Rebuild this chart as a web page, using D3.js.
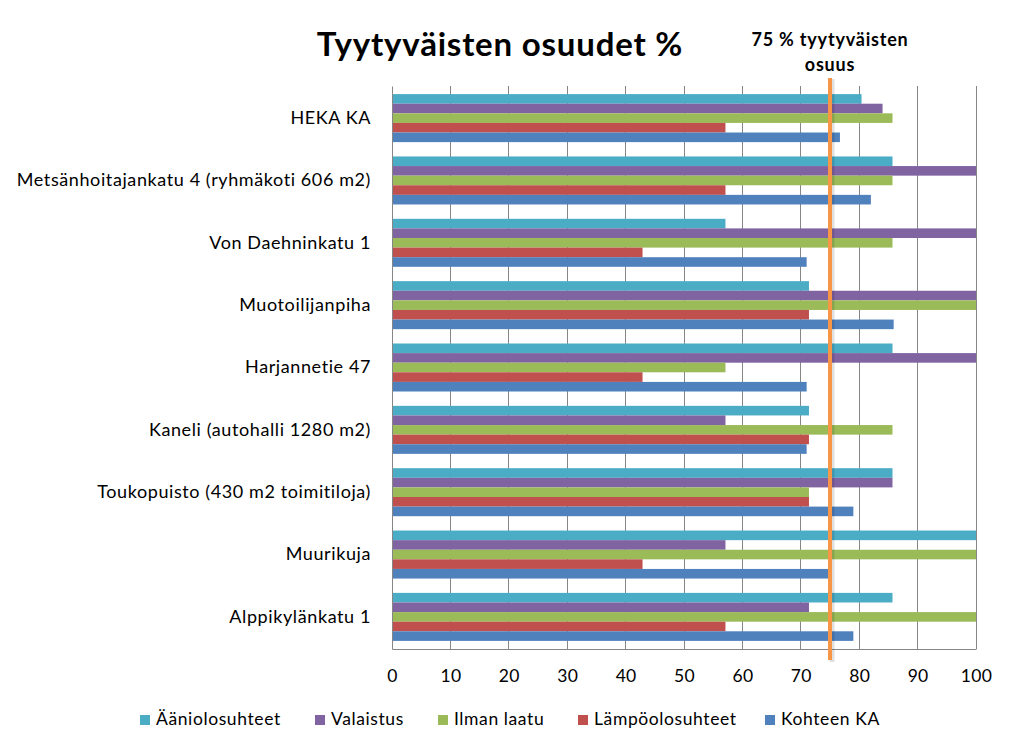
<!DOCTYPE html>
<html><head><meta charset="utf-8">
<script src="https://cdn.jsdelivr.net/npm/d3@7"></script>
<style>
body{margin:0;background:#fff;}
svg{display:block;font-family:Lato,"Open Sans",sans-serif;}
</style></head>
<body><svg id="c" width="1015" height="751"></svg>
<script>
const categories = ["HEKA KA","Metsänhoitajankatu 4 (ryhmäkoti 606 m2)","Von Daehninkatu 1","Muotoilijanpiha","Harjannetie 47","Kaneli (autohalli 1280 m2)","Toukopuisto (430 m2 toimitiloja)","Muurikuja","Alppikylänkatu 1"];
const seriesNames = ["Ääniolosuhteet","Valaistus","Ilman laatu","Lämpöolosuhteet","Kohteen KA"];
const seriesColors = ["#4BACC6","#8064A2","#9BBB59","#C0504D","#4F81BD"];
const aaniolosuhteet  = [80.4, 85.7, 57.1, 71.4, 85.7, 71.4, 85.7, 100, 85.7];
const valaistus       = [84.0, 100, 100, 100, 100, 57.1, 85.7, 57.1, 71.4];
const ilmanLaatu      = [85.7, 85.7, 85.7, 100, 57.1, 85.7, 71.4, 100, 100];
const lampoolosuhteet = [57.1, 57.1, 42.9, 71.4, 42.9, 71.4, 71.4, 42.9, 57.1];
const kohteenKA       = [76.7, 82.0, 71.0, 85.9, 71.0, 71.0, 79.0, 75.0, 79.0];
const xTicks = [0,10,20,30,40,50,60,70,80,90,100];
const targetValue = 75;
const titleText = "Tyytyväisten osuudet %";
const targetLabel = ["75 % tyytyväisten","osuus"];

const seriesValues = [aaniolosuhteet, valaistus, ilmanLaatu, lampoolosuhteet, kohteenKA];

const svg = d3.select("#c");
const L = 392, R = 976, T = 86, B = 649;

const x = d3.scaleLinear().domain([0,100]).range([L,R]);
const y = d3.scaleBand().domain(categories).range([T,B]).paddingInner(0.23).paddingOuter(0.13);
const ys = d3.scaleBand().domain(seriesNames).range([0,y.bandwidth()]);

// gridlines
svg.append("g").selectAll("line").data(xTicks.filter(d=>d>0)).join("line")
  .attr("x1",d=>x(d)).attr("x2",d=>x(d)).attr("y1",T).attr("y2",B)
  .attr("stroke","#868686").attr("stroke-width",1).attr("shape-rendering","crispEdges");

// bars
categories.forEach((cat,i)=>{
  seriesNames.forEach((s,j)=>{
    svg.append("rect")
      .attr("x",x(0)).attr("y",y(cat)+ys(s))
      .attr("width",x(seriesValues[j][i])-x(0)).attr("height",ys.bandwidth())
      .attr("fill",seriesColors[j]);
  });
});

// axes
const xAxis = svg.append("g").attr("transform",`translate(0,${B})`)
  .call(d3.axisBottom(x).tickValues(xTicks).tickSize(0).tickPadding(21));
xAxis.select(".domain").attr("stroke","#868686");
xAxis.selectAll("text").attr("font-size",17.5).attr("fill","#000").attr("font-family","Lato, sans-serif").attr("letter-spacing",0.3);

const yAxis = svg.append("g").attr("transform",`translate(${L},0)`)
  .call(d3.axisLeft(y).tickSize(0).tickPadding(21));
yAxis.select(".domain").attr("stroke","#868686");
yAxis.selectAll("text").attr("font-size",18).attr("fill","#000").attr("font-family","Lato, sans-serif").attr("letter-spacing",0.6);

// target line
svg.append("line").attr("x1",x(targetValue)+2).attr("x2",x(targetValue)+2).attr("y1",79).attr("y2",662)
  .attr("stroke","#000").attr("stroke-opacity",0.12).attr("stroke-width",5);
svg.append("line").attr("x1",x(targetValue)).attr("x2",x(targetValue)).attr("y1",78).attr("y2",660)
  .attr("stroke","#F79646").attr("stroke-width",4);

svg.append("text").attr("x",x(targetValue)).attr("y",46).attr("text-anchor","middle")
  .attr("font-size",18).attr("font-weight","bold").attr("letter-spacing",0.8).text(targetLabel[0]);
svg.append("text").attr("x",x(targetValue)).attr("y",71).attr("text-anchor","middle")
  .attr("font-size",18).attr("font-weight","bold").attr("letter-spacing",0.8).text(targetLabel[1]);

// title
svg.append("text").attr("x",500).attr("y",56).attr("text-anchor","middle")
  .attr("font-size",33).attr("font-weight","bold").attr("letter-spacing",0.8).text(titleText);

// legend
const legendX = [140,315,438,578,765];
const lg = svg.append("g");
seriesNames.forEach((s,j)=>{
  lg.append("rect").attr("x",legendX[j]).attr("y",715).attr("width",10).attr("height",10).attr("fill",seriesColors[j]);
  lg.append("text").attr("x",legendX[j]+16).attr("y",725).attr("font-size",17.5).attr("letter-spacing",0.6).text(s);
});
</script></body></html>
